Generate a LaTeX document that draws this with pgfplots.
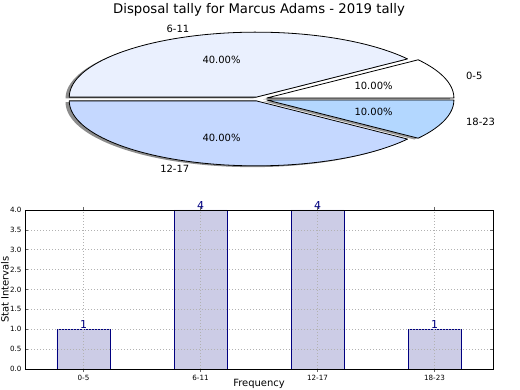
\documentclass[border=0pt]{standalone}
\usepackage{pgfplots}
\usepackage{pgfplotstable}
\pgfplotsset{compat=1.18}
\usepackage{fontspec}
\setmainfont{DejaVu Sans}
\definecolor{cA}{RGB}{255,255,255}
\definecolor{cB}{RGB}{234,240,254}
\definecolor{cC}{RGB}{197,216,255}
\definecolor{cD}{RGB}{179,215,255}
\definecolor{barfill}{RGB}{204,204,230}
\definecolor{navyc}{RGB}{0,0,128}
\pgfplotstableread{
label value
0-5 1
6-11 4
12-17 4
18-23 1
}\datatable
% #1 start angle, #2 end angle, #3 explode, #4 style, #5 extra shift x, #6 extra shift y
\newcommand{\pieslice}[6]{%
  \addplot[#4, domain=#1:#2, samples=80, line join=round]
    ({#3*cos((#1+#2)/2)+#5+cos(x)},{#3*sin((#1+#2)/2)+#6+sin(x)})
    -- (axis cs:{#3*cos((#1+#2)/2)+#5},{#3*sin((#1+#2)/2)+#6}) -- cycle;
}
\begin{document}
\begin{tikzpicture}
\path[use as bounding box, clip] (0,0) rectangle (520bp,390bp);
\node[font=\fontsize{13.3}{16}\selectfont] at (259bp,380bp) {Disposal tally for Marcus Adams - 2019 tally};
% values 1,4,4,1 of 10 -> 36 degrees per unit
\begin{axis}[
  at={(258bp,291bp)}, anchor=center,
  width=448.8bp, height=156bp, scale only axis,
  xmin=-1.2, xmax=1.2, ymin=-1.2, ymax=1.2,
  hide axis, clip=false,
  every node/.append style={font=\fontsize{11}{13}\selectfont}
]
% shadows
\pieslice{0}{36}{0.05}{fill=black!40, draw=none}{-0.02}{-0.02}
\pieslice{36}{180}{0.03}{fill=black!45, draw=none}{-0.02}{-0.02}
\pieslice{180}{324}{0.03}{fill=black!45, draw=none}{-0.02}{-0.02}
\pieslice{324}{360}{0.05}{fill=black!40, draw=none}{-0.02}{-0.02}
% slices
\pieslice{0}{36}{0.05}{fill=cA, draw=black, line width=0.8bp}{0}{0}
\pieslice{36}{180}{0.03}{fill=cB, draw=black, line width=0.8bp}{0}{0}
\pieslice{180}{324}{0.03}{fill=cC, draw=black, line width=0.8bp}{0}{0}
\pieslice{324}{360}{0.05}{fill=cD, draw=black, line width=0.8bp}{0}{0}
% labels
\node[anchor=west] at (axis cs:1.094,0.355) {0-5};
\node[anchor=east] at (axis cs:-0.349,1.075) {6-11};
\node[anchor=east] at (axis cs:-0.349,-1.075) {12-17};
\node[anchor=west] at (axis cs:1.094,-0.355) {18-23};
\node at (axis cs:0.618,0.201) {10.00\%};
\node at (axis cs:-0.195,0.599) {40.00\%};
\node at (axis cs:-0.195,-0.599) {40.00\%};
\node at (axis cs:0.618,-0.201) {10.00\%};
\end{axis}
\begin{axis}[
  at={(25bp,21bp)}, anchor=south west,
  width=468bp, height=159bp, scale only axis,
  xmin=-0.5, xmax=3.5, ymin=0, ymax=4,
  xtick={0,1,2,3},
  xticklabels from table={\datatable}{label},
  ytick={0,0.5,1,1.5,2,2.5,3,3.5,4},
  y tick label style={/pgf/number format/.cd, fixed, fixed zerofill, precision=1, /tikz/.cd},
  /pgf/number format/assume math mode=true,
  ticklabel style={font=\fontsize{7.2}{8.5}\selectfont},
  grid=major, major grid style={dash pattern=on 1bp off 2bp, black!30, line width=0.7bp},
  axis on top,
  axis line style={black, line width=0.8bp},
  tick align=inside, major tick length=3bp, tick style={black!60, line width=0.5bp},
  ybar, bar width=53bp,
  clip=false,
  nodes near coords,
  every node near coord/.append style={font=\fontsize{11}{13}\selectfont, text=navyc, anchor=south, inner sep=0.5bp},
  xlabel={Frequency}, ylabel={Stat Intervals},
  label style={font=\fontsize{11}{13}\selectfont},
  every axis x label/.style={at={(axis description cs:0.5,-0.128)}, anchor=south, inner sep=0.5bp},
  every axis y label/.style={at={(axis description cs:-0.0525,0.5)}, rotate=90, anchor=north, inner sep=0.5bp},
]
\addplot[fill=barfill, draw=navyc, line width=0.8bp] table[x expr=\coordindex, y=value] {\datatable};
\end{axis}
\end{tikzpicture}
\end{document}
